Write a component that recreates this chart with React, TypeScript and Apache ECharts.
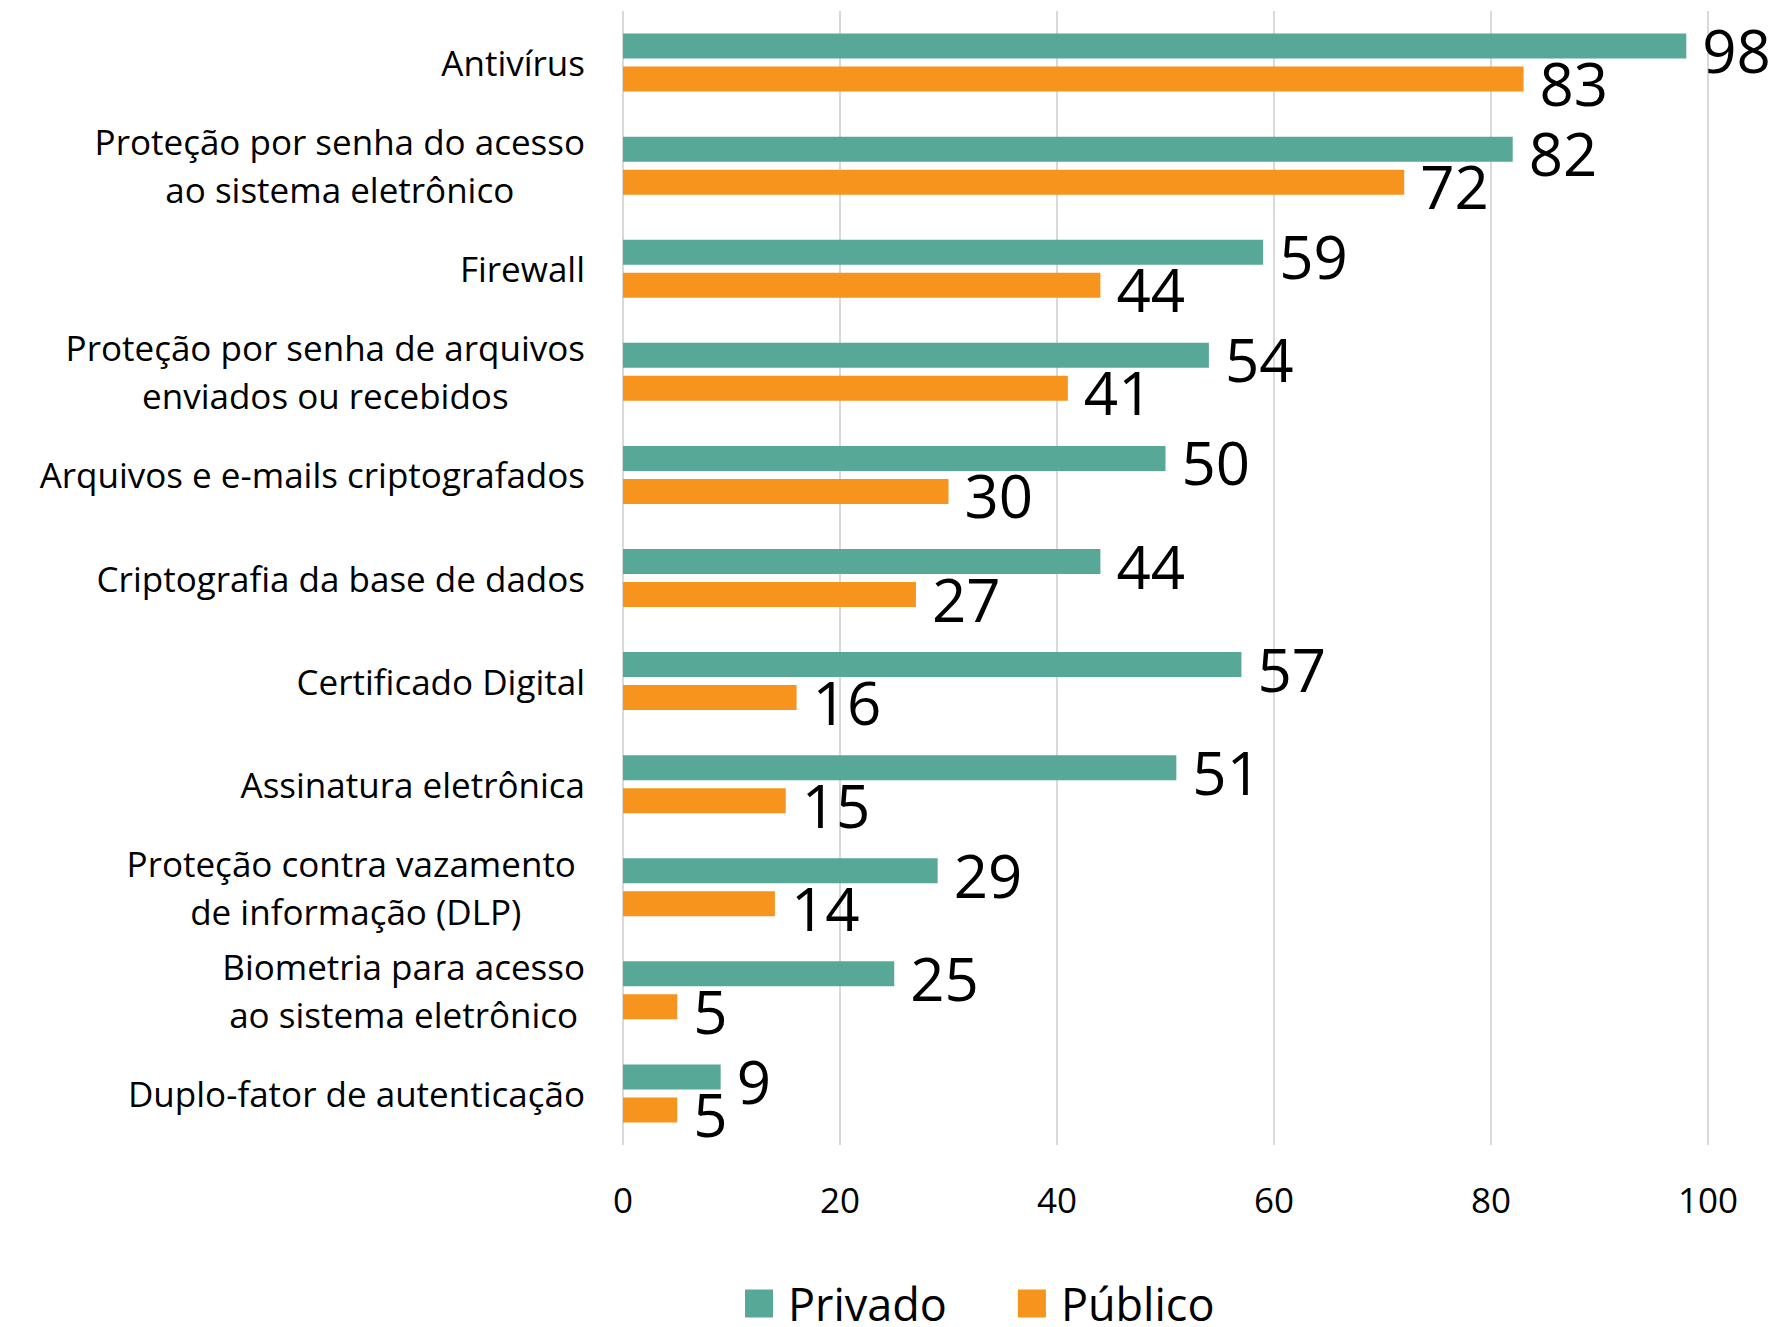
import React, { useEffect, useRef } from "react";
import * as echarts from "echarts";

const categories = [
  "Antivírus",
  "Proteção por senha do acesso\nao sistema eletrônico",
  "Firewall",
  "Proteção por senha de arquivos\nenviados ou recebidos",
  "Arquivos e e-mails criptografados",
  "Criptografia da base de dados",
  "Certificado Digital",
  "Assinatura eletrônica",
  "Proteção contra vazamento \nde informação (DLP)",
  "Biometria para acesso\nao sistema eletrônico",
  "Duplo-fator de autenticação",
];
const privado = [98, 82, 59, 54, 50, 44, 57, 51, 29, 25, 9];
const publico = [83, 72, 44, 41, 30, 27, 16, 15, 14, 5, 5];
const xTicks = { min: 0, max: 100, interval: 20 };

const FONT = "'Open Sans', 'Noto Sans', sans-serif";
const GREEN = "#57A897";
const ORANGE = "#F7941E";

export default function App() {
  const ref = useRef<HTMLDivElement>(null);
  useEffect(() => {
    if (!ref.current) return;
    const chart = echarts.init(ref.current, null, { renderer: "svg" });
    const labelStyle = {
      show: true,
      position: "right" as const,
      distance: 16,
      offset: [0, 4],
      fontSize: 60,
      fontFamily: FONT,
      color: "#000",
    };
    chart.setOption({
      animation: false,
      backgroundColor: "#fff",
      grid: { left: 623, right: 64, top: 11, bottom: 182, containLabel: false },
      legend: {
        left: 740,
        top: 1276,
        itemWidth: 28,
        itemHeight: 28,
        itemGap: 71,
        icon: "rect",
        textStyle: { fontSize: 45, fontFamily: FONT, color: "#000", padding: [0, 0, 0, 10] },
        data: ["Privado", "Público"],
      },
      xAxis: {
        type: "value",
        min: xTicks.min,
        max: xTicks.max,
        interval: xTicks.interval,
        axisLine: { show: false },
        axisTick: { show: false },
        splitLine: { show: true, lineStyle: { color: "#d9d9d9", width: 2 } },
        axisLabel: { fontSize: 35, fontFamily: FONT, color: "#000", margin: 37 },
      },
      yAxis: {
        type: "category",
        inverse: true,
        data: categories,
        axisLine: { show: false },
        axisTick: { show: false },
        axisLabel: {
          margin: 38,
          align: "right",
          fontSize: 35,
          fontFamily: FONT,
          color: "#000",
          lineHeight: 48,
          formatter: (v: string) =>
            v
              .split("\n")
              .map((l) => `{c|${l}}`)
              .join("\n"),
          rich: {
            c: {
              align: "center",
              fontSize: 35,
              fontFamily: FONT,
              color: "#000",
              lineHeight: 48,
            },
          },
        },
      },
      series: [
        {
          name: "Privado",
          type: "bar",
          data: privado,
          barWidth: 25,
          barGap: "32%",
          barCategoryGap: "44%",
          itemStyle: { color: GREEN },
          label: labelStyle,
        },
        {
          name: "Público",
          type: "bar",
          data: publico,
          barWidth: 25,
          barGap: "32%",
          barCategoryGap: "44%",
          itemStyle: { color: ORANGE },
          label: labelStyle,
        },
      ],
    });
    return () => chart.dispose();
  }, []);
  return (
    <div
      ref={ref}
      style={{ position: "fixed", left: 0, top: 0, width: 1772, height: 1327 }}
    />
  );
}
